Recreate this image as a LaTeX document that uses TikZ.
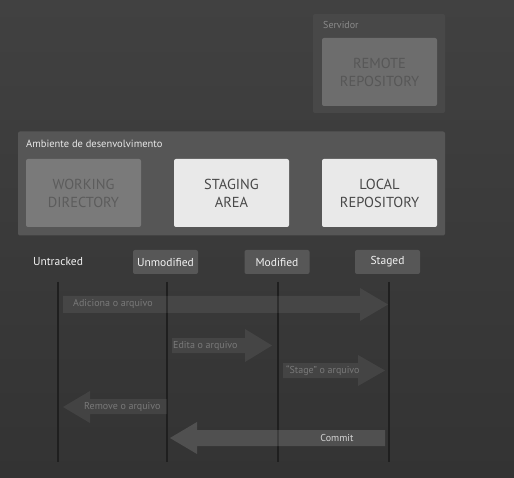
\documentclass[tikz,border=0pt]{standalone}
\usepackage{fontspec}
\setmainfont{PT Sans}
\usetikzlibrary{positioning}
\definecolor{bgtop}{HTML}{414141}
\definecolor{bgbot}{HTML}{333333}
\definecolor{srvbox}{HTML}{484848}
\definecolor{srvtext}{HTML}{8A8A8A}
\definecolor{remotefill}{HTML}{6D6D6D}
\definecolor{remotetext}{HTML}{575757}
\definecolor{ambfill}{HTML}{565656}
\definecolor{ambtext}{HTML}{E8E8E8}
\definecolor{wdfill}{HTML}{7A7A7A}
\definecolor{wdtext}{HTML}{5C5C5C}
\definecolor{lightfill}{HTML}{E9E9E9}
\definecolor{lighttext}{HTML}{484848}
\definecolor{statefill}{HTML}{575757}
\definecolor{statetext}{HTML}{F2F2F2}
\definecolor{lifeline}{HTML}{1F1F1F}
\definecolor{arrowtext}{HTML}{797979}
\definecolor{committext}{HTML}{D4D4D4}
\tikzset{
  bigbox/.style={rounded corners=2pt, minimum width=115pt, minimum height=68pt, inner sep=0pt, align=center, font=\fontsize{14.5}{18}\selectfont},
  groupbox/.style={rounded corners=2pt, inner sep=0pt},
  statebox/.style={fill=statefill, rounded corners=2pt, minimum width=65pt, minimum height=24pt, inner sep=0pt, text=statetext, font=\fontsize{11.5}{13}\selectfont},
  statelabel/.style={text=statetext, font=\fontsize{11.5}{13}\selectfont, inner sep=0pt},
  lifelinestyle/.style={draw=lifeline, line width=2pt},
  flowarrow/.style={fill=white, fill opacity=0.07},
  commitarrow/.style={fill=white, fill opacity=0.14},
  arrowlabel/.style={text=arrowtext, font=\fontsize{10}{12}\selectfont, inner sep=0pt, anchor=west},
}
\begin{document}
\begin{tikzpicture}[x=1pt,y=-1pt]
\useasboundingbox (0,0) rectangle (514,478);
\shade[top color=bgtop, bottom color=bgbot] (0,0) rectangle (514,478);

% server group
\node[groupbox, fill=srvbox, minimum width=132pt, minimum height=99pt] (srv) at (379,63.5) {};
\node[anchor=west, inner sep=0pt, text=srvtext, font=\fontsize{10}{12}\selectfont] (srvlabel) at (323,25) {Servidor};
\node[bigbox, fill=remotefill, text=remotetext] (remote) at (379.5,72) {REMOTE\\REPOSITORY};

% development environment group
\node[groupbox, fill=ambfill, minimum width=427pt, minimum height=104pt] (amb) at (231.5,183.5) {};
\node[anchor=west, inner sep=0pt, text=ambtext, font=\fontsize{10.5}{12}\selectfont] (amblabel) at (26,144) {Ambiente de desenvolvimento};
\node[bigbox, fill=wdfill, text=wdtext] (wd) at (83.5,193) {WORKING\\DIRECTORY};
\node[bigbox, fill=lightfill, text=lighttext] (stage) at (231.5,193) {STAGING\\AREA};
\node[bigbox, fill=lightfill, text=lighttext] (local) at (379.5,193) {LOCAL\\REPOSITORY};

% states
\node[statelabel] (untracked) at (58,262) {Untracked};
\node[statebox] (unmod) at (165.5,262) {Unmodified};
\node[statebox] (mod) at (277,262) {Modified};
\node[statebox] (staged) at (387.5,262) {Staged};

% lifelines
\coordinate (l1t) at (58,282);  \coordinate (l1b) at (58,462);
\coordinate (l2t) at (167,282); \coordinate (l2b) at (167,462);
\coordinate (l3t) at (278,282); \coordinate (l3b) at (278,462);
\coordinate (l4t) at (389,282); \coordinate (l4b) at (389,462);
\draw[lifelinestyle] (l1t) -- (l1b);
\draw[lifelinestyle] (l2t) -- (l2b);
\draw[lifelinestyle] (l3t) -- (l3b);
\draw[lifelinestyle] (l4t) -- (l4b);

% flow arrows
\fill[flowarrow] (63,296) -- (360,296) -- (360,288) -- (388,304.5) -- (360,321) -- (360,313) -- (63,313) -- cycle;
\node[arrowlabel] (addlabel) at (73,303.5) {Adiciona o arquivo};

\fill[flowarrow] (172,338) -- (245,338) -- (245,329) -- (272,345.5) -- (245,362) -- (245,353) -- (172,353) -- cycle;
\node[arrowlabel] (editlabel) at (173,345.5) {Edita o arquivo};

\fill[flowarrow] (283,363) -- (358,363) -- (358,355) -- (385,370.5) -- (358,386) -- (358,378) -- (283,378) -- cycle;
\node[arrowlabel] (stagelabel) at (286,370.5) {“Stage” o arquivo};

\fill[flowarrow] (167,399) -- (90,399) -- (90,391) -- (63,407) -- (90,423) -- (90,414) -- (167,414) -- cycle;
\node[arrowlabel] (removelabel) at (84,406.5) {Remove o arquivo};

\fill[commitarrow] (385,430) -- (197,430) -- (197,422) -- (170,438) -- (197,454) -- (197,446) -- (385,446) -- cycle;
\node[inner sep=0pt, text=committext, font=\fontsize{10}{12}\selectfont] (commitlabel) at (337,437.5) {Commit};
\end{tikzpicture}
\end{document}
